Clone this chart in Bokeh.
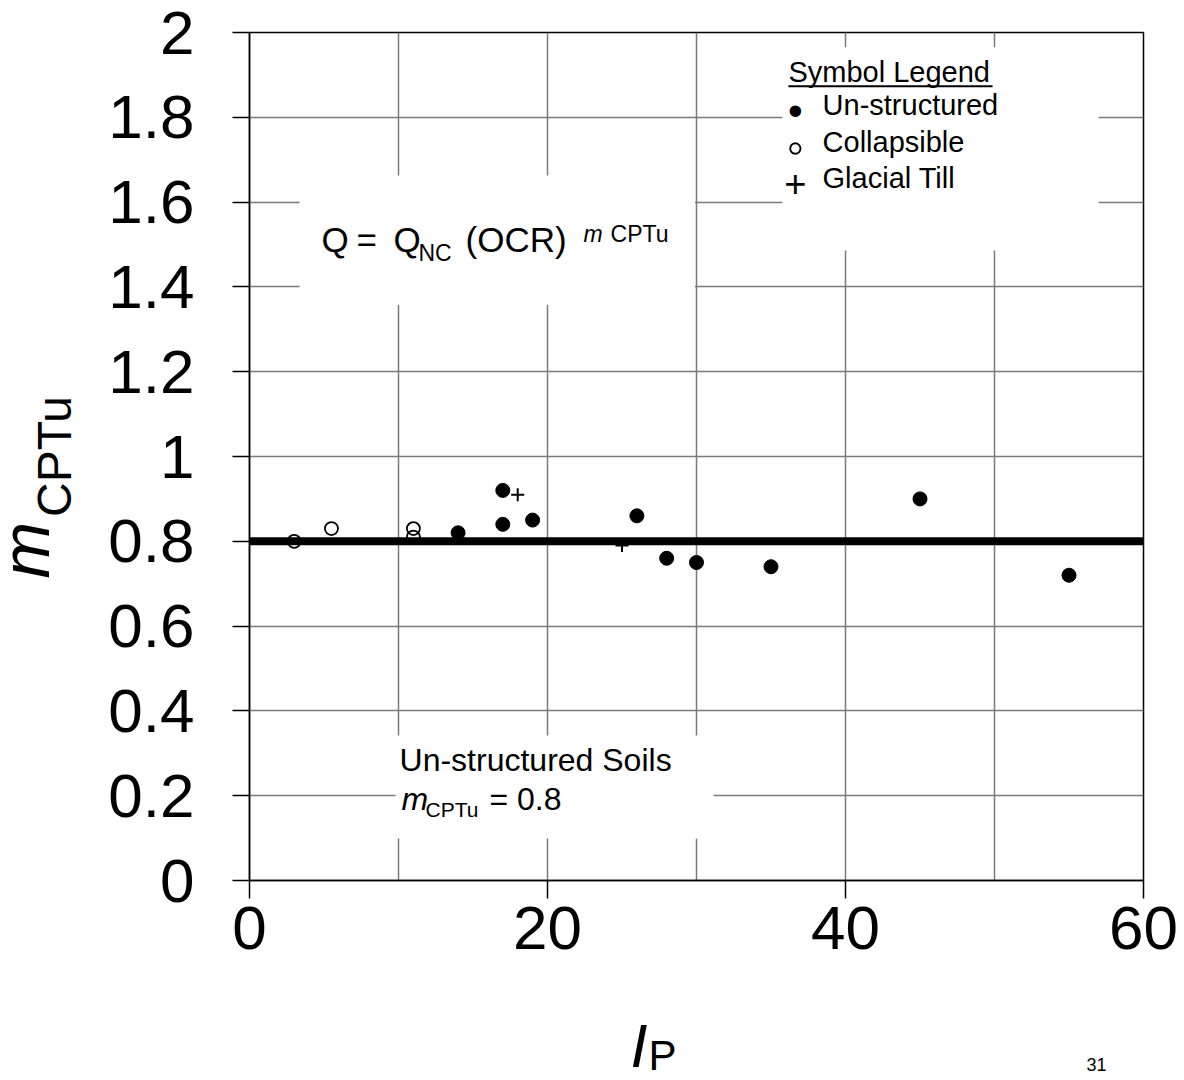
import math

from bokeh.plotting import figure
from bokeh.models import FixedTicker, Label, BoxAnnotation, NumeralTickFormatter, Title
from bokeh.embed import file_html
from bokeh.resources import INLINE

FONT = "Liberation Sans"

# Exponent m_CPTu against plasticity index I_P
unstructured_ip = [14, 17, 17, 19, 26, 28, 30, 35, 45, 55]
unstructured_m = [0.82, 0.92, 0.84, 0.85, 0.86, 0.76, 0.75, 0.74, 0.90, 0.72]

collapsible_ip = [3, 5.5, 11, 11]
collapsible_m = [0.80, 0.83, 0.83, 0.81]

till_ip = [18, 25]
till_m = [0.91, 0.79]

# Recommended value for un-structured soils
M_CPTU = 0.8
trend_ip = [0, 60]

x_ticks = [0, 20, 40, 60]
x_grid = [0, 10, 20, 30, 40, 50, 60]
y_ticks = [0, 0.2, 0.4, 0.6, 0.8, 1, 1.2, 1.4, 1.6, 1.8, 2]

p = figure(
    width=1184, height=1080,
    x_range=(0, 60), y_range=(0, 2),
    output_backend="svg", toolbar_location=None,
    min_border_left=249, min_border_right=41,
    min_border_top=32, min_border_bottom=200,
    background_fill_color="white", border_fill_color="white",
)
p.outline_line_color = "black"
p.outline_line_width = 1.5

# axes
for ax in (p.xaxis[0], p.yaxis[0]):
    ax.axis_line_color = "black"
    ax.axis_line_width = 1.5
    ax.major_tick_line_color = "black"
    ax.major_tick_line_width = 1.5
    ax.major_tick_in = 0
    ax.minor_tick_line_color = None
    ax.major_label_text_font = FONT
    ax.major_label_text_font_size = "62px"
    ax.major_label_text_color = "black"

p.xaxis.ticker = FixedTicker(ticks=x_ticks)
p.xaxis.formatter = NumeralTickFormatter(format="0")
p.xaxis.major_tick_out = 18
p.xaxis.major_label_standoff = 8

p.yaxis.ticker = FixedTicker(ticks=y_ticks)
p.yaxis.formatter = NumeralTickFormatter(format="0.[0]")
p.yaxis.major_tick_out = 17
p.yaxis.major_label_standoff = 38

# y title: subscript part carried by the axis itself
p.yaxis.axis_label = "CPTu"
p.yaxis.axis_label_text_font = FONT
p.yaxis.axis_label_text_font_size = "48px"
p.yaxis.axis_label_text_font_style = "normal"
p.yaxis.axis_label_text_color = "black"
p.yaxis.axis_label_standoff = 24

# grid
p.xgrid.ticker = FixedTicker(ticks=x_grid)
p.ygrid.ticker = FixedTicker(ticks=y_ticks)
for g in (p.xgrid[0], p.ygrid[0]):
    g.grid_line_color = "#7a7a7a"
    g.grid_line_width = 1.5

# white panels behind the text blocks
for left, right, bottom, top in [
    (3.36, 29.9, 1.358, 1.663),
    (35.77, 56.98, 1.486, 1.965),
    (9.8, 31.14, 0.099, 0.342),
]:
    p.add_layout(BoxAnnotation(left=left, right=right, bottom=bottom, top=top,
                               fill_color="white", fill_alpha=1.0,
                               line_color=None, level="underlay"))

# m_CPTu = 0.8 line
p.line(trend_ip, [M_CPTU] * len(trend_ip), line_color="black", line_width=8)

# data
p.scatter(unstructured_ip, unstructured_m, marker="circle", size=14,
          fill_color="black", line_color="black", line_width=1)
p.scatter(collapsible_ip, collapsible_m, marker="circle", size=13,
          fill_color=None, line_color="black", line_width=1.8)
p.scatter(till_ip, till_m, marker="cross", size=13,
          line_color="black", line_width=2)


def make_label(x, y, text, size, style="normal", align="left"):
    return Label(x=x, y=y, text=text, text_font=FONT,
                 text_font_size=f"{size}px", text_font_style=style,
                 text_color="black", text_align=align,
                 text_baseline="middle")


def add_text(x, y, text, size, style="normal", align="left"):
    p.add_layout(make_label(x, y, text, size, style, align))


# formula
add_text(4.83, 1.511, "Q", 35)
add_text(7.18, 1.511, "=", 35)
add_text(9.66, 1.511, "Q", 35)
add_text(11.34, 1.479, "NC", 23)
add_text(14.50, 1.511, "(OCR)", 35)
add_text(22.42, 1.524, "m", 23, "italic")
add_text(24.23, 1.524, "CPTu", 23)

# symbol legend
add_text(36.17, 1.9065, "Symbol Legend", 29)
p.add_layout(BoxAnnotation(left=36.17, right=49.87, bottom=1.8710, top=1.8757,
                           fill_color="black", fill_alpha=1.0, line_color=None))
add_text(36.64, 1.816, "\u2022", 42, align="center")
add_text(38.46, 1.8280, "Un-structured", 29)
add_text(36.64, 1.7290, "\u25e6", 50, align="center")
add_text(38.46, 1.7414, "Collapsible", 29)
add_text(36.64, 1.6439, "+", 38, align="center")
add_text(38.46, 1.6558, "Glacial Till", 29)

# un-structured soils note
add_text(10.07, 0.2833, "Un-structured Soils", 32)
add_text(10.2, 0.1929, "m", 32, "italic")
add_text(11.81, 0.1665, "CPTu", 21)
add_text(16.1, 0.1929, f"= {M_CPTU:g}", 32)

# x title and page number sit under the axis
p.add_layout(make_label(25.57, -0.3913, "I", 61, "italic"), "below")
p.add_layout(make_label(26.78, -0.4138, "P", 42), "below")
p.add_layout(make_label(56.17, -0.4335, "31", 18), "below")

# y title main symbol
p.add_layout(Title(text="m", align="left", offset=302, vertical_align="top",
                   standoff=-78, text_font=FONT, text_font_size="68px",
                   text_font_style="italic", text_color="black"), "left")

open("out.html", "w").write(file_html(p, INLINE))
